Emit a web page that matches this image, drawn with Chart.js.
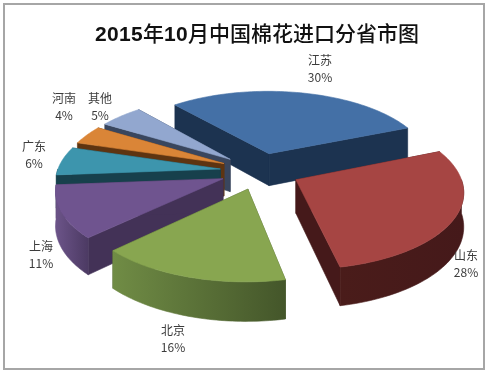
<!DOCTYPE html>
<html><head><meta charset="utf-8">
<style>
@font-face{font-family:TitleMix;src:local("Liberation Sans Bold"),local("LiberationSans-Bold");unicode-range:U+0030-0039;}
@font-face{font-family:TitleMix;src:local("Noto Sans CJK SC Medium"),local("NotoSansCJKsc-Medium"),local("Noto Sans CJK SC"),local("NotoSansCJKsc-Regular");unicode-range:U+4E00-9FFF;}
html,body{margin:0;padding:0;background:#fff;}
#frame{position:absolute;left:3px;top:3px;width:478px;height:363px;border:2px solid #a6a6a6;}
#c{position:absolute;left:0;top:0;}
</style>
<script src="https://cdn.jsdelivr.net/npm/chart.js@4"></script>
</head><body>
<div id="frame"></div>
<canvas id="c" width="490" height="374" style="width:490px;height:374px"></canvas>
<script>
const titleText = '2015年10月中国棉花进口分省市图';
const categories = ['江苏','山东','北京','上海','广东','河南','其他'];
const shares = [30,28,16,11,6,4,5];
const topColors  = ['#4470a6','#a64543','#88a650','#6f548f','#3d95ad','#da8537','#92a7cf'];
const cutColors  = ['#1c3350','#45191a','#46592a','#433257','#17404c','#5e3411','#39465e'];
const wallLeft   = ['#1c3350','#4a1c1a','#708c45','#6c5489','#17404c','#5e3411','#39465e'];
const wallRight  = ['#1c3350','#45191a','#44562a','#4c3a63','#17404c','#5e3411','#39465e'];
const labelAt    = [[320,60],[466,255],[173,330],[41,246],[34,146],[64,98],[100,98]];

const view = {cx:260, cy:171, k:0.46, p:0.00082, radius:163, depth:33};
function project(X,Y,z){
  const f = 1/(1 - view.p*Y);
  return [view.cx + X*f, view.cy + view.k*Y*f + z*f];
}
class Arc3D extends Chart.ArcElement {
  static id = 'arc3d';
  draw(ctx){
    const i = this.$context.dataIndex;
    const a0 = this.startAngle, a1 = this.endAngle, mid = (a0+a1)/2;
    const E = this.options.offset, R = view.radius, d = view.depth;
    const ox = Math.cos(mid)*E, oy = Math.sin(mid)*E;
    const rim = a => [ox+R*Math.cos(a), oy+R*Math.sin(a)];
    const poly = (pts,fill) => {
      ctx.beginPath();
      pts.forEach((p,n)=> n? ctx.lineTo(p[0],p[1]) : ctx.moveTo(p[0],p[1]));
      ctx.closePath(); ctx.fillStyle = fill; ctx.fill();
      ctx.strokeStyle = fill; ctx.lineWidth = 0.6; ctx.stroke();
    };
    const apex = [ox,oy];
    [a0,a1].forEach(a=>{
      const e = rim(a);
      poly([project(apex[0],apex[1],0),project(e[0],e[1],0),project(e[0],e[1],d),project(apex[0],apex[1],d)], cutColors[i]);
    });
    // outer wall, only where it faces the viewer
    const tau = Math.PI*2;
    for (const base of [-tau,0,tau]) {
      const s = Math.max(a0, base), t = Math.min(a1, base+Math.PI);
      if (t <= s) continue;
      const upper=[], lower=[];
      for (let n=0;n<=48;n++){ const a=s+(t-s)*n/48, e=rim(a); upper.push(project(e[0],e[1],0)); lower.unshift(project(e[0],e[1],d)); }
      const pts = upper.concat(lower), xs = pts.map(p=>p[0]);
      const g = ctx.createLinearGradient(Math.min(...xs),0,Math.max(...xs),0);
      g.addColorStop(0,wallLeft[i]); g.addColorStop(1,wallRight[i]);
      poly(pts,g);
    }
    const face=[project(apex[0],apex[1],0)];
    for (let n=0;n<=64;n++){ const e=rim(a0+(a1-a0)*n/64); face.push(project(e[0],e[1],0)); }
    poly(face,this.options.backgroundColor);
  }
}
class Pie3D extends Chart.PieController {
  static id = 'pie3d';
  static defaults = {...Chart.PieController.defaults, dataElementType:'arc3d'};
  static overrides = Chart.PieController.overrides;
  draw(){
    const ctx = this.chart.ctx;
    const arcs = this.getMeta().data.slice();
    const depth = a => Math.sin((a.startAngle+a.endAngle)/2);
    arcs.sort((p,q)=>depth(p)-depth(q)).forEach(a=>a.draw(ctx));
  }
}
Chart.register(Arc3D, Pie3D);

const sliceLabels = {
  id:'sliceLabels',
  afterDatasetsDraw(chart){
    const ctx = chart.ctx; ctx.save();
    ctx.textAlign='center'; ctx.textBaseline='middle'; ctx.fillStyle='#3c3c3c';
    ctx.font='12px "Noto Sans CJK SC"';
    categories.forEach((name,i)=>{
      ctx.fillText(name,labelAt[i][0],labelAt[i][1]);
      ctx.fillText(shares[i]+'%',labelAt[i][0],labelAt[i][1]+17);
    });
    ctx.restore();
  }
};
function build(){
  new Chart(document.getElementById('c'),{
    type:'pie3d',
    data:{labels:categories,datasets:[{data:shares,backgroundColor:topColors,borderWidth:0,offset:40}]},
    options:{
      responsive:false,animation:false,rotation:-40.5,
      layout:{padding:{left:24,top:12}},
      plugins:{legend:{display:false},tooltip:{enabled:false},
        title:{display:true,text:titleText,color:'#111',font:{family:'TitleMix,"Noto Sans CJK SC"',size:21,weight:'normal'},padding:{top:8,bottom:6}}}
    },
    plugins:[sliceLabels]
  });
}
Promise.all([document.fonts.load('21px TitleMix','2015'),document.fonts.load('21px TitleMix','中')]).then(build,build);
</script>
</body></html>
